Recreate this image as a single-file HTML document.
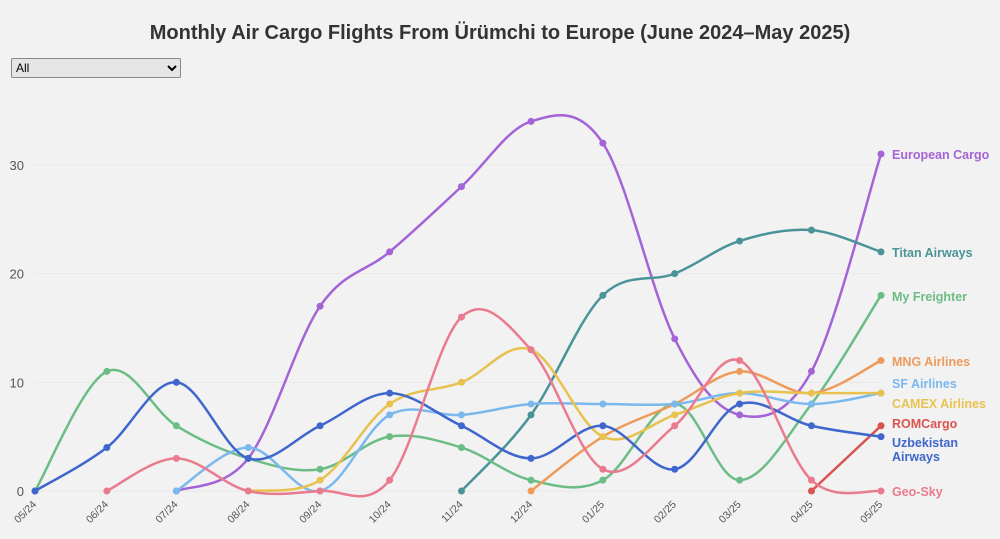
<!DOCTYPE html>
<html><head><meta charset="utf-8"><style>
body{margin:0;background:#f2f2f2;font-family:"Liberation Sans",sans-serif;}
#wrap{position:relative;width:1000px;height:539px;overflow:hidden;background:#f2f2f2}
select{position:absolute;left:11px;top:58px;width:170px;height:20px;font-size:12px;background:#e6e6e6;border:1px solid #888;border-radius:2px}
</style></head><body><div id="wrap">
<select><option>All</option></select>
<svg id="c" width="1000" height="539" style="position:absolute;left:0;top:0;pointer-events:none"></svg>
</div>
<script>
const months=["05/24","06/24","07/24","08/24","09/24","10/24","11/24","12/24","01/25","02/25","03/25","04/25","05/25"];
const monthDays=[0,31,61,92,123,153,184,214,245,276,304,335,365];
const yTicks=[0,10,20,30];
const seriesNames=["European Cargo","Titan Airways","My Freighter","MNG Airlines","SF Airlines","CAMEX Airlines","ROMCargo","Uzbekistan Airways","Geo-Sky"];
const seriesColors=["#a463d6","#4a9499","#6bbd85","#ee9a5a","#7ab8ee","#e8c24e","#d9534f","#3e66cc","#ea7a8e"];
const europeanCargo=[null,null,0,3,17,22,28,34,32,14,7,11,31];
const titanAirways=[null,null,null,null,null,null,0,7,18,20,23,24,22];
const myFreighter=[0,11,6,3,2,5,4,1,1,8,1,8,18];
const mngAirlines=[null,null,null,null,null,null,null,0,5,8,11,9,12];
const sfAirlines=[null,null,0,4,0,7,7,8,8,8,9,8,9];
const camexAirlines=[null,null,null,0,1,8,10,13,5,7,9,9,9];
const romCargo=[null,null,null,null,null,null,null,null,null,null,null,0,6];
const uzbekistan=[0,4,10,3,6,9,6,3,6,2,8,6,5];
const geoSky=[null,0,3,0,0,1,16,13,2,6,12,1,0];
const allSeries=[europeanCargo,titanAirways,myFreighter,mngAirlines,sfAirlines,camexAirlines,romCargo,uzbekistan,geoSky];
const labelY=[154,252,296,361,383,403,423,442,491];
const labelLines=[["European Cargo"],["Titan Airways"],["My Freighter"],["MNG Airlines"],["SF Airlines"],["CAMEX Airlines"],["ROMCargo"],["Uzbekistan","Airways"],["Geo-Sky"]];

const svg=document.getElementById('c');const NS="http://www.w3.org/2000/svg";
const x=d=>35+d*(846/365);const y=v=>491-v*10.87;
function mk(t,a,p){const e=document.createElementNS(NS,t);for(const k in a)e.setAttribute(k,a[k]);(p||svg).appendChild(e);return e;}
const title=mk('text',{x:500,y:39,'text-anchor':'middle','font-size':20,'font-weight':'bold',fill:'#333'});


title.textContent="Monthly Air Cargo Flights From Ürümchi to Europe (June 2024–May 2025)";
yTicks.forEach(t=>{
 const g=mk('line',{x1:35,x2:881,y1:y(t),y2:y(t),stroke:'#e8e8e8','stroke-width':1});
 
 
 const l=mk('text',{x:24,y:y(t)+5,'text-anchor':'end','font-size':13,fill:'#555'});
 
 
 l.textContent=t;
});
months.forEach((m,i)=>{
 const px=x(monthDays[i]);
 const l=mk('text',{x:px+2,y:505,'text-anchor':'end','font-size':10.5,fill:'#555',transform:`rotate(-45 ${px+2} 505)`});
 
 
 l.textContent=m;
});
function path(pts){let d=`M${pts[0][0]},${pts[0][1]}`;const t=0.17;
 for(let i=0;i<pts.length-1;i++){const p0=pts[Math.max(0,i-1)],p1=pts[i],p2=pts[i+1],p3=pts[Math.min(pts.length-1,i+2)];
 d+=` C${p1[0]+(p2[0]-p0[0])*t},${p1[1]+(p2[1]-p0[1])*t} ${p2[0]-(p3[0]-p1[0])*t},${p2[1]-(p3[1]-p1[1])*t} ${p2[0]},${p2[1]}`;}
 return d;}
allSeries.forEach((s,si)=>{
 const pts=[];s.forEach((v,i)=>{if(v!==null)pts.push([x(monthDays[i]),y(v)]);});
 const g=mk('g',{});
 
 
 const p=mk('path',{d:path(pts),fill:'none',stroke:seriesColors[si],'stroke-width':2.5},g);
 
 
 pts.forEach(q=>{const c=mk('circle',{cx:q[0],cy:q[1],r:3.5,fill:seriesColors[si]},g);
  
  });
 const lt=mk('text',{x:892,y:labelY[si]+5,'font-size':12.5,'font-weight':'bold',fill:seriesColors[si]});
 
 
 labelLines[si].forEach((ln,k)=>{const ts=mk('tspan',{x:892,dy:k?14:0},lt);ts.textContent=ln;});
});
</script></body></html>
